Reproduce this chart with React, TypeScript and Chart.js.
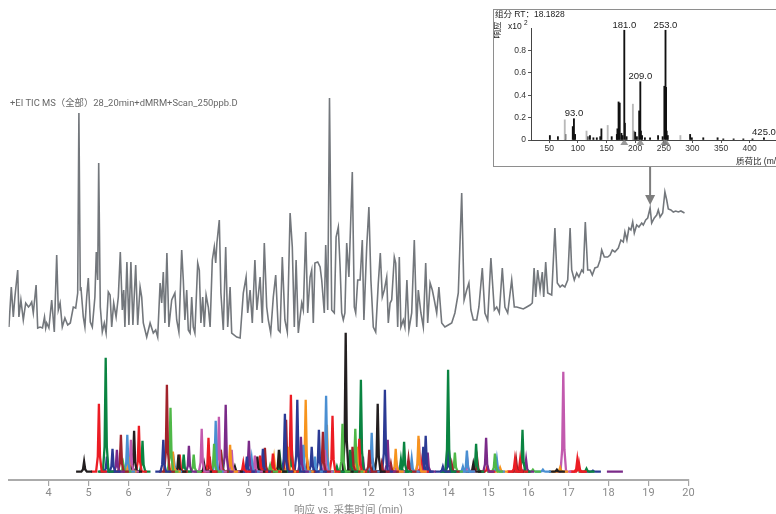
import React, { useEffect, useRef } from "react";
import { Chart, registerables } from "chart.js";

Chart.register(...registerables);

// ---- TIC trace (retention time in min, response) ----
const ticTime = [
  3.01, 3.07, 3.12, 3.16, 3.23, 3.26, 3.31, 3.37, 3.43, 3.5, 3.54, 3.58, 3.62, 3.69, 3.73, 3.79, 3.85, 3.9, 3.93, 3.955,
  4.01, 4.08, 4.145, 4.205, 4.245, 4.29, 4.345, 4.41, 4.48, 4.545, 4.62, 4.68, 4.73, 4.76, 4.795, 4.81, 4.87, 4.91, 4.955, 4.995,
  5.045, 5.095, 5.16, 5.195, 5.23, 5.255, 5.295, 5.345, 5.395, 5.44, 5.495, 5.54, 5.58, 5.63, 5.69, 5.745, 5.795, 5.845, 5.88, 5.91,
  5.96, 6.01, 6.06, 6.11, 6.18, 6.23, 6.29, 6.33, 6.37, 6.455, 6.54, 6.62, 6.68, 6.73, 6.79, 6.83, 6.87, 6.91, 6.96, 7.01,
  7.08, 7.16, 7.205, 7.26, 7.33, 7.37, 7.41, 7.455, 7.495, 7.54, 7.58, 7.62, 7.66, 7.73, 7.77, 7.81, 7.855, 7.895, 7.94, 7.995,
  8.04, 8.095, 8.145, 8.18, 8.21, 8.27, 8.31, 8.37, 8.43, 8.48, 8.54, 8.58, 8.705, 8.79, 8.87, 8.94, 8.98, 9.04, 9.095, 9.16,
  9.21, 9.29, 9.345, 9.395, 9.455, 9.495, 9.555, 9.62, 9.68, 9.745, 9.79, 9.845, 9.91, 9.97, 10.04, 10.095, 10.145, 10.19, 10.245, 10.33,
  10.37, 10.43, 10.48, 10.54, 10.58, 10.62, 10.66, 10.73, 10.79, 10.83, 10.895, 10.93, 10.98, 11.025, 11.08, 11.145, 11.19, 11.245, 11.29, 11.33,
  11.37, 11.41, 11.455, 11.51, 11.595, 11.645, 11.68, 11.73, 11.79, 11.845, 11.885, 11.955, 12.01, 12.06, 12.12, 12.18, 12.245, 12.295, 12.345, 12.395,
  12.455, 12.495, 12.54, 12.58, 12.645, 12.68, 12.73, 12.77, 12.81, 12.87, 12.91, 12.96, 13.01, 13.08, 13.145, 13.205, 13.245, 13.31, 13.37, 13.43,
  13.48, 13.54, 13.595, 13.645, 13.705, 13.76, 13.83, 13.91, 13.995, 14.08, 14.16, 14.245, 14.33, 14.39, 14.455, 14.51, 14.56, 14.62, 14.705, 14.76,
  14.845, 14.91, 14.98, 15.06, 15.145, 15.205, 15.27, 15.345, 15.41, 15.48, 15.58, 15.645, 15.705, 15.79, 15.87, 15.955, 16.04, 16.095, 16.14, 16.18,
  16.23, 16.29, 16.345, 16.38, 16.43, 16.48, 16.58, 16.66, 16.72, 16.79, 16.845, 16.91, 16.98, 17.04, 17.08, 17.145, 17.205, 17.26, 17.33, 17.37,
  17.42, 17.48, 17.54, 17.595, 17.66, 17.73, 17.79, 17.83, 17.895, 17.98, 18.04, 18.095, 18.16, 18.245, 18.31, 18.37, 18.41, 18.46, 18.51, 18.56,
  18.605, 18.645, 18.705, 18.76, 18.83, 18.87, 18.93, 18.98, 19.04, 19.08, 19.145, 19.205, 19.245, 19.29, 19.355, 19.41, 19.455, 19.495, 19.56, 19.62,
  19.68, 19.745, 19.81, 19.9,
];
const ticResp = [
  18, 58, 28, 48, 75, 28, 45, 25, 42, 38, 40, 43, 32, 60, 17, 18, 17, 28, 17, 22,
  17, 45, 13, 90, 35, 42, 18, 27, 20, 22, 38, 37, 52, 232, 55, 58, 28, 18, 48, 67,
  23, 18, 48, 93, 65, 182, 38, 13, 22, 12, 53, 50, 18, 42, 28, 48, 93, 35, 55, 18,
  83, 20, 83, 20, 80, 20, 58, 48, 22, 8, 22, 12, 15, 8, 62, 42, 73, 22, 92, 18,
  45, 52, 25, 13, 95, 65, 25, 55, 15, 12, 48, 18, 12, 82, 75, 22, 48, 18, 50, 38,
  18, 85, 98, 82, 102, 125, 52, 15, 98, 18, 58, 12, 8, 7, 52, 68, 32, 55, 22, 85,
  35, 68, 22, 102, 38, 25, 12, 48, 70, 15, 13, 88, 25, 13, 132, 98, 18, 85, 12, 42,
  35, 113, 32, 68, 75, 22, 82, 83, 78, 65, 32, 100, 35, 247, 35, 32, 108, 118, 78, 32,
  25, 32, 102, 68, 173, 38, 32, 65, 65, 105, 25, 98, 138, 65, 18, 13, 62, 92, 48, 55,
  68, 22, 42, 45, 88, 82, 18, 88, 18, 25, 18, 65, 15, 32, 105, 18, 55, 32, 18, 82,
  22, 62, 55, 45, 32, 58, 22, 18, 20, 22, 32, 52, 152, 45, 55, 62, 35, 25, 25, 38,
  77, 32, 25, 87, 35, 38, 32, 77, 38, 32, 65, 38, 38, 37, 36, 38, 40, 42, 77, 48,
  75, 55, 73, 48, 83, 52, 50, 117, 62, 58, 60, 58, 65, 117, 75, 65, 72, 68, 75, 73,
  123, 75, 75, 70, 77, 78, 85, 95, 88, 88, 90, 95, 93, 97, 105, 103, 113, 105, 117, 115,
  123, 112, 120, 118, 122, 120, 125, 127, 137, 122, 127, 130, 135, 128, 132, 153, 145, 136, 135, 133,
  134, 133, 134, 132,
];

// ---- dMRM transitions: apex time (min), apex response, colour index ----
const mrmRT = [
  4.89, 5.26, 5.43, 5.46, 5.6, 5.71, 5.81, 5.87, 5.97, 6.0, 6.06, 6.08, 6.14, 6.26, 6.35,
  6.87, 6.96, 7.05, 7.11, 7.14, 7.25, 7.28, 7.38, 7.51, 7.63, 7.83, 7.89, 8.0, 8.03, 8.14,
  8.18, 8.26, 8.31, 8.33, 8.43, 8.54, 8.58, 8.66, 8.87, 8.96, 9.01, 9.08, 9.16, 9.22, 9.29,
  9.36, 9.41, 9.54, 9.61, 9.64, 9.76, 9.79, 9.91, 9.94, 9.99, 10.06, 10.08, 10.22, 10.31, 10.37,
  10.43, 10.47, 10.58, 10.66, 10.76, 10.86, 10.91, 10.94, 10.96, 11.1, 11.21, 11.35, 11.43, 11.54, 11.6,
  11.67, 11.71, 11.77, 11.81, 11.86, 12.02, 12.08, 12.12, 12.23, 12.33, 12.41, 12.48, 12.56, 12.68, 12.71,
  12.81, 12.89, 13.0, 13.08, 13.25, 13.26, 13.31, 13.37, 13.43, 13.48, 13.86, 13.99, 14.0, 14.08, 14.16,
  14.36, 14.46, 14.47, 14.62, 14.69, 14.72, 14.94, 14.97, 15.16, 15.21, 15.29, 15.66, 15.69, 15.79, 15.85,
  15.94, 16.11, 16.36, 16.71, 16.79, 16.87, 17.22, 17.26, 17.45, 17.61, 18.16,
];
const mrmHeight = [
  10, 68, 114, 15, 23, 22, 37, 8, 37, 15, 32, 18, 41, 46, 31,
  32, 87, 64, 20, 10, 17, 17, 17, 26, 17, 43, 8, 34, 15, 28,
  51, 55, 22, 13, 67, 27, 22, 5, 9, 15, 31, 13, 16, 15, 16,
  23, 24, 6, 18, 13, 22, 13, 58, 52, 25, 77, 25, 72, 35, 27,
  72, 10, 25, 15, 42, 40, 22, 76, 47, 56, 5, 48, 139, 22, 25,
  43, 25, 33, 92, 15, 22, 39, 8, 68, 8, 82, 32, 8, 23, 7,
  12, 30, 13, 13, 36, 33, 11, 25, 36, 19, 5, 102, 22, 8, 19,
  5, 21, 12, 8, 28, 12, 34, 5, 18, 12, 4, 12, 12, 12, 42,
  12, 2, 2, 2, 4, 100, 12, 9, 3, 1, 0,
];
const mrmColorIdx = [
  0, 1, 2, 4, 4, 8, 9, 3, 5, 6, 7, 0, 0, 1, 2,
  4, 9, 3, 6, 5, 0, 1, 2, 8, 3, 7, 0, 1, 9, 3,
  5, 7, 9, 2, 8, 6, 7, 0, 1, 4, 8, 5, 7, 0, 1,
  4, 9, 3, 1, 6, 0, 2, 4, 9, 6, 1, 2, 4, 8, 5,
  6, 9, 4, 5, 4, 9, 7, 5, 6, 1, 2, 3, 0, 2, 9,
  3, 6, 1, 2, 8, 9, 5, 0, 0, 9, 4, 8, 9, 6, 7,
  2, 2, 9, 5, 6, 7, 1, 4, 4, 8, 4, 2, 4, 9, 3,
  5, 5, 7, 0, 2, 9, 8, 1, 3, 5, 6, 1, 9, 1, 2,
  8, 3, 5, 0, 6, 7, 1, 1, 2, 4, 8,
];
const mrmPalette = [
  "#231f20", "#ec1c24", "#0a8441", "#4fb848", "#2b3a94",
  "#4a8fd2", "#f7941d", "#c25aae", "#7a2a88", "#a2232b",
];

const timeTicks = [4, 5, 6, 7, 8, 9, 10, 11, 12, 13, 14, 15, 16, 17, 18, 19, 20];
const ticTitle = "+EI TIC MS（全部）28_20min+dMRM+Scan_250ppb.D";
const xAxisTitle = "响应 vs. 采集时间 (min)";
const arrowRT = 19.04;

// ---- mass spectrum of the selected component ----
const compRT = "18.1828";
const specMz = [
  51, 65, 78, 91, 93, 95, 117, 121, 127, 133, 139, 141, 159, 168, 169, 171, 173, 176, 178, 181,
  182, 185, 197, 200, 203, 207, 209, 210, 212, 217, 226, 240, 248, 251, 253, 254, 255, 257, 296, 299,
  319, 344, 354, 372, 389, 405, 425,
];
const specInt = [
  0.04, 0.03, 0.05, 0.12, 0.19, 0.05, 0.03, 0.04, 0.02, 0.02, 0.03, 0.1, 0.03, 0.05, 0.1, 0.34, 0.33, 0.06, 0.04, 0.98,
  0.15, 0.03, 0.08, 0.07, 0.03, 0.26, 0.52, 0.08, 0.04, 0.02, 0.02, 0.04, 0.03, 0.48, 0.98, 0.47, 0.08, 0.04, 0.05, 0.02,
  0.02, 0.02, 0.01, 0.01, 0.01, 0.01, 0.02,
];
const refMz = [77, 115, 152, 196, 279];
const refInt = [0.18, 0.08, 0.13, 0.32, 0.04];
const labeledMz = [93, 181, 209, 253, 425];
const markerMz = [181, 209, 251, 254];
const mzTicks = [50, 100, 150, 200, 250, 300, 350, 400];
const respTicks = [0, 0.1, 0.2, 0.3, 0.4, 0.5, 0.6, 0.7, 0.8, 0.9];

const CJK = '"Noto Sans CJK SC"';

export default function App() {
  const mainRef = useRef<HTMLCanvasElement>(null);
  const insetRef = useRef<HTMLCanvasElement>(null);

  useEffect(() => {
    const datasets: any[] = [
      {
        label: "TIC",
        data: ticTime.map((t, i) => ({ x: t, y: ticResp[i] })),
        yAxisID: "yTic",
        borderColor: "#73777c",
        borderWidth: 1.6,
        pointRadius: 0,
        tension: 0,
      },
    ];
    mrmRT.forEach((rt, i) => {
      const h = mrmHeight[i];
      datasets.push({
        label: "MRM " + (i + 1),
        data: [
          { x: rt - 0.2, y: 0 },
          { x: rt - 0.07, y: 0 },
          { x: rt - 0.028, y: h * 0.22 },
          { x: rt, y: h },
          { x: rt + 0.028, y: h * 0.22 },
          { x: rt + 0.07, y: 0 },
          { x: rt + 0.2, y: 0 },
        ],
        yAxisID: "yMrm",
        borderColor: mrmPalette[mrmColorIdx[i]],
        borderWidth: 2.3,
        pointRadius: 0,
        tension: 0,
      });
    });

    const mainDecor = {
      id: "mainDecor",
      afterDatasetsDraw(chart: any) {
        const { ctx, scales } = chart;
        ctx.save();
        ctx.font = `9.4px Roboto, ${CJK}, sans-serif`;
        ctx.fillStyle = "#676767";
        ctx.textBaseline = "middle";
        ctx.textAlign = "left";
        ctx.fillText(ticTitle, 10, 104);

        // arrow from the spectrum box down to the selected TIC point
        const ax = scales.x.getPixelForValue(arrowRT);
        const idx = ticTime.indexOf(arrowRT);
        const tipY = scales.yTic.getPixelForValue(ticResp[idx]) - 3;
        ctx.strokeStyle = "#7d7d7d";
        ctx.fillStyle = "#7d7d7d";
        ctx.lineWidth = 2;
        ctx.beginPath();
        ctx.moveTo(ax, 167);
        ctx.lineTo(ax, tipY - 8);
        ctx.stroke();
        ctx.beginPath();
        ctx.moveTo(ax - 5, tipY - 10);
        ctx.lineTo(ax + 5, tipY - 10);
        ctx.lineTo(ax, tipY);
        ctx.closePath();
        ctx.fill();
        ctx.restore();
      },
    };

    const main = new Chart(mainRef.current as HTMLCanvasElement, {
      type: "line",
      data: { datasets },
      plugins: [mainDecor],
      options: {
        responsive: false,
        animation: false,
        devicePixelRatio: 1,
        layout: { padding: { left: 8.5, right: 87.5, top: 0, bottom: 0 } },
        plugins: { legend: { display: false }, tooltip: { enabled: false } },
        scales: {
          x: {
            type: "linear",
            min: 3,
            max: 20,
            afterBuildTicks: (s: any) => {
              s.ticks = timeTicks.map((v) => ({ value: v }));
            },
            afterFit: (s: any) => {
              s.height = 34;
            },
            ticks: {
              autoSkip: false,
              maxRotation: 0,
              padding: 1,
              color: "#8b8b8b",
              font: { family: "Roboto, sans-serif", size: 11 },
            },
            grid: { drawOnChartArea: false, drawTicks: true, tickLength: 6, color: "#a6a6a6", lineWidth: 1.2 },
            border: { display: true, color: "#ababab", width: 2 },
            title: {
              display: true,
              text: xAxisTitle,
              color: "#8b8b8b",
              font: { family: `Roboto, ${CJK}, sans-serif`, size: 10.5 },
              padding: { top: 0, bottom: -3 },
            },
          },
          yTic: { type: "linear", display: false, min: -135, max: 345 },
          yMrm: { type: "linear", display: false, min: -8.3, max: 471.7 },
        },
      } as any,
    });

    const insetDecor = {
      id: "insetDecor",
      afterDatasetsDraw(chart: any) {
        const { ctx, scales, chartArea } = chart;
        const x = scales.x;
        const y = scales.y;
        ctx.save();
        // precursor markers under the m/z axis
        ctx.fillStyle = "rgba(120,120,120,0.75)";
        markerMz.forEach((m) => {
          const px = x.getPixelForValue(m);
          ctx.beginPath();
          ctx.moveTo(px, chartArea.bottom - 1);
          ctx.lineTo(px - 4, chartArea.bottom + 5);
          ctx.lineTo(px + 4, chartArea.bottom + 5);
          ctx.closePath();
          ctx.fill();
        });
        // ion labels
        ctx.font = '9.5px "Liberation Sans", Arial, sans-serif';
        ctx.fillStyle = "#222";
        ctx.textAlign = "center";
        ctx.textBaseline = "alphabetic";
        labeledMz.forEach((m) => {
          const v = specInt[specMz.indexOf(m)];
          ctx.fillText(m.toFixed(1), x.getPixelForValue(m), y.getPixelForValue(v) - 2.5);
        });
        // header texts
        ctx.textAlign = "left";
        ctx.textBaseline = "middle";
        ctx.font = `8.5px "Liberation Sans", ${CJK}, sans-serif`;
        ctx.fillText("组分 RT：" + compRT, 1, 5);
        ctx.fillText("x10", 14, 17);
        ctx.font = '6.5px "Liberation Sans", sans-serif';
        ctx.fillText("2", 30, 13);
        ctx.font = `8.5px "Liberation Sans", ${CJK}, sans-serif`;
        ctx.fillText("质荷比 (m/z)", 242, 152);
        ctx.translate(4, 20);
        ctx.rotate(-Math.PI / 2);
        ctx.textAlign = "center";
        ctx.fillText("响应", 0, 0);
        ctx.restore();
      },
    };

    const inset = new Chart(insetRef.current as HTMLCanvasElement, {
      type: "bar",
      data: {
        datasets: [
          {
            label: "ref",
            data: refMz.map((m, i) => ({ x: m, y: refInt[i] })),
            backgroundColor: "#b9b9b9",
            barThickness: 1.2,
            grouped: false,
          },
          {
            label: "spectrum",
            data: specMz.map((m, i) => ({ x: m, y: specInt[i] })),
            backgroundColor: "#111111",
            barThickness: 1.2,
            grouped: false,
          },
        ],
      },
      plugins: [insetDecor],
      options: {
        responsive: false,
        animation: false,
        devicePixelRatio: 1,
        layout: { padding: { left: 0, right: 0, top: 18, bottom: 0 } },
        plugins: { legend: { display: false }, tooltip: { enabled: false } },
        scales: {
          x: {
            type: "linear",
            min: 18,
            max: 477.5,
            offset: false,
            afterBuildTicks: (s: any) => {
              s.ticks = mzTicks.map((v) => ({ value: v }));
            },
            afterFit: (s: any) => {
              s.height = 26;
            },
            ticks: {
              autoSkip: false,
              maxRotation: 0,
              padding: 1,
              color: "#333",
              font: { family: '"Liberation Sans", Arial, sans-serif', size: 8.5 },
            },
            grid: { offset: false, drawOnChartArea: false, tickLength: 3, color: "#555" },
            border: { display: true, color: "#444", width: 1 },
          },
          y: {
            type: "linear",
            min: 0,
            max: 1,
            afterBuildTicks: (s: any) => {
              s.ticks = respTicks.map((v) => ({ value: v }));
            },
            afterFit: (s: any) => {
              s.width = 37;
            },
            ticks: {
              padding: 2,
              color: "#333",
              font: { family: '"Liberation Sans", Arial, sans-serif', size: 8.5 },
              callback: (v: any) => (v === 0 ? "0" : Number(v).toFixed(1)),
            },
            grid: { drawOnChartArea: false, tickLength: 3, color: "#555" },
            border: { display: true, color: "#444", width: 1 },
          },
        },
      } as any,
    });

    return () => {
      main.destroy();
      inset.destroy();
    };
  }, []);

  return (
    <div
      style={{
        position: "absolute",
        left: 0,
        top: 0,
        width: 776,
        height: 514,
        overflow: "hidden",
        background: "#fff",
      }}
    >
      <canvas ref={mainRef} width={776} height={514} style={{ position: "absolute", left: 0, top: 0 }} />
      <div
        style={{
          position: "absolute",
          left: 493,
          top: 9,
          width: 400,
          height: 158,
          border: "1px solid #8e8e8e",
          boxSizing: "border-box",
          background: "#fff",
        }}
      >
        <canvas ref={insetRef} width={300} height={156} style={{ position: "absolute", left: 0, top: 0 }} />
      </div>
    </div>
  );
}
